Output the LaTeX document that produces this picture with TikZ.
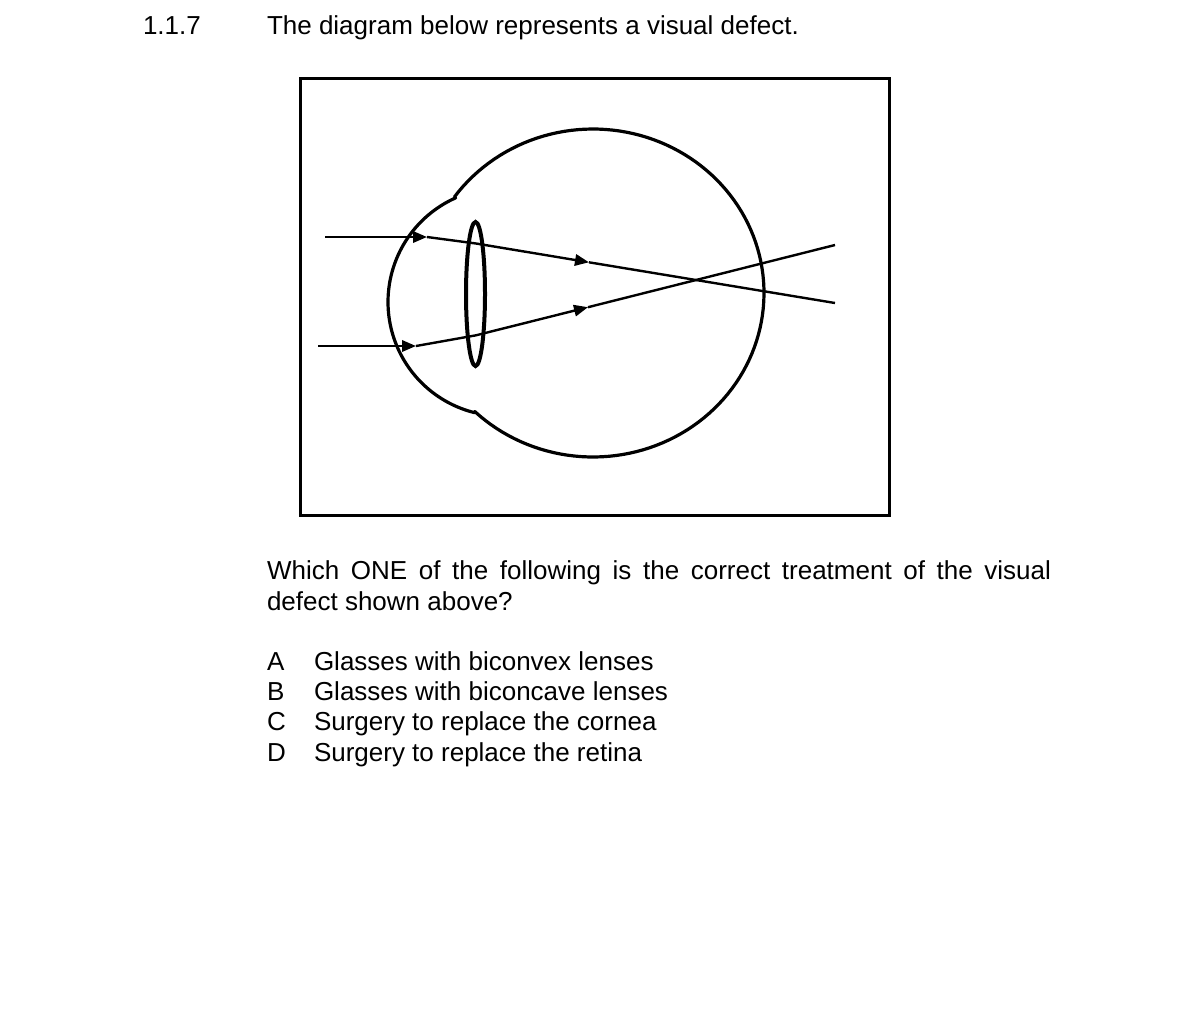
\documentclass[tikz,border=0pt]{standalone}
\usepackage{fontspec}
\setmainfont{Liberation Sans}
\usetikzlibrary{arrows.meta}
\begin{document}
\begin{tikzpicture}[x=0.75pt,y=-0.75pt,
  txt/.style={anchor=base west,inner sep=0pt,outer sep=0pt,font=\fontsize{19.5pt}{22.5pt}\selectfont},
  eyeline/.style={line width=2.4pt,line join=round},
  lensline/.style={line width=3pt},
  ray/.style={line width=1.8pt},
  rayarrow/.style={ray,-{Triangle[length=10.5pt,width=8.5pt]}},
  frameline/.style={line width=2.2pt}]
\useasboundingbox (0,0) rectangle (1191,1011);
\fill[white] (0,0) rectangle (1191,1011);
% header
\node[txt] (num) at (143,34) {1.1.7};
\node[txt] (title) at (267,34) {The diagram below represents a visual defect.};
% frame
\node[draw,frameline,minimum width=441.5pt,minimum height=327.75pt,inner sep=0pt] (frame) at (595,297) {};
% eyeball outline: globe then cornea
\draw[eyeline] plot[domain=-144.1:133.7,samples=120] ({593+171*cos(\x)},{293+164*sin(\x)})
  -- plot[domain=103.9:245.9,samples=80] ({502+114*cos(\x)},{302+114*sin(\x)}) -- cycle;
% lens
\draw[lensline] (475.5,294) ellipse [x radius=9.5, y radius=72];
\node[inner sep=0pt] (lens) at (475.5,294) {};
% rays
\coordinate (t0) at (325,237);
\coordinate (t1) at (427,237);
\coordinate (t2) at (476,243.5);
\coordinate (t3) at (589,262.3);
\coordinate (t4) at (835,303);
\coordinate (b0) at (318,346);
\coordinate (b1) at (416,346);
\coordinate (b2) at (476,335.3);
\coordinate (b3) at (588,307.2);
\coordinate (b4) at (835,245);
\draw[rayarrow] (t0) -- (t1);
\draw[rayarrow] (t1) -- (t2) -- (t3);
\draw[ray] (t3) -- (t4);
\draw[rayarrow] (b0) -- (b1);
\draw[rayarrow] (b1) -- (b2) -- (b3);
\draw[ray] (b3) -- (b4);
% question
\node[txt] (q1) at (267,579) {\makebox[588pt][s]{Which ONE of the following is the correct treatment of the visual}};
\node[txt] (q2) at (267,610) {defect shown above?};
\node[txt] (la) at (267,670) {A};
\node[txt] (lb) at (267,700) {B};
\node[txt] (lc) at (267,730) {C};
\node[txt] (ld) at (267,761) {D};
\node[txt] (oa) at (314,670) {Glasses with biconvex lenses};
\node[txt] (ob) at (314,700) {Glasses with biconcave lenses};
\node[txt] (oc) at (314,730) {Surgery to replace the cornea};
\node[txt] (od) at (314,761) {Surgery to replace the retina};
\end{tikzpicture}
\end{document}
